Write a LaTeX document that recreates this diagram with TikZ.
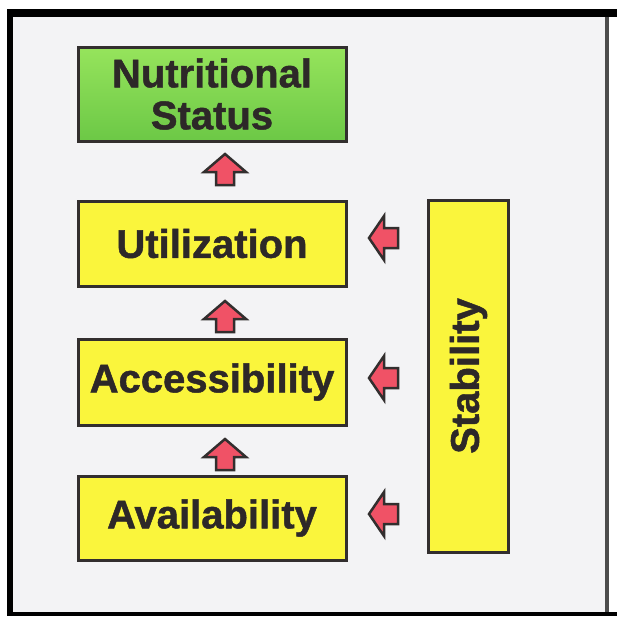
\documentclass[tikz,border=0pt]{standalone}
\usepackage{fontspec}
\setmainfont[BoldFeatures={FakeBold=1.2}]{Liberation Sans}
\usetikzlibrary{calc}
\definecolor{bgpaper}{RGB}{243,243,245}
\definecolor{boxyellow}{RGB}{250,245,60}
\definecolor{greentop}{RGB}{150,228,92}
\definecolor{greenbot}{RGB}{108,200,70}
\definecolor{edgegray}{RGB}{50,46,46}
\definecolor{textgray}{RGB}{45,40,40}
\definecolor{arrowred}{RGB}{240,82,102}
\tikzset{
  box/.style={draw=edgegray, line width=3pt, fill=boxyellow, text=textgray,
    font=\fontsize{40}{42}\selectfont\bfseries, align=center,
    minimum width=268pt, minimum height=85pt, inner sep=0pt},
  arrowstyle/.style={fill=arrowred, draw=edgegray, line width=2.5pt, line join=miter},
  uparrow/.pic={\draw[arrowstyle] (0,-16) -- (21,2) -- (9,2) -- (9,15) -- (-9,15) -- (-9,2) -- (-21,2) -- cycle;},
  leftarrow/.pic={\draw[arrowstyle] (-15,0) -- (0,-22) -- (0,-10) -- (14,-10) -- (14,10) -- (0,10) -- (0,22) -- cycle;}
}
\begin{document}
\begin{tikzpicture}[x=1pt,y=-1pt]
\useasboundingbox (0,0) rectangle (617,616);
\fill[white] (0,0) rectangle (617,616);
\fill[bgpaper] (13,17) rectangle (605,612);
% frame
\fill[black] (7,9) rectangle (617,17);
\fill[black] (7,9) rectangle (13,616);
\fill[black] (7,612) rectangle (617,616);
\fill[black!70] (605,17) rectangle (609,612);
% boxes
\node[box, minimum height=94pt, fill=none, top color=greentop, bottom color=greenbot] (nutri) at (212,94) {Nutritional\\Status};
\node[box] (util) at (212,243.5) {Utilization};
\node[box, minimum height=86pt] (access) at (212,382) {Accessibility};
\node[box, minimum height=84pt] (avail) at (212,518) {Availability};
\node[box, minimum width=352pt, minimum height=80pt, rotate=90] (stab) at (468.5,376) {Stability};
% arrows
\pic at (225,170) {uparrow};
\pic at (225,317) {uparrow};
\pic at (225,455) {uparrow};
\pic at (384,238) {leftarrow};
\pic at (384,378) {leftarrow};
\pic at (384,514) {leftarrow};
\end{tikzpicture}
\end{document}
